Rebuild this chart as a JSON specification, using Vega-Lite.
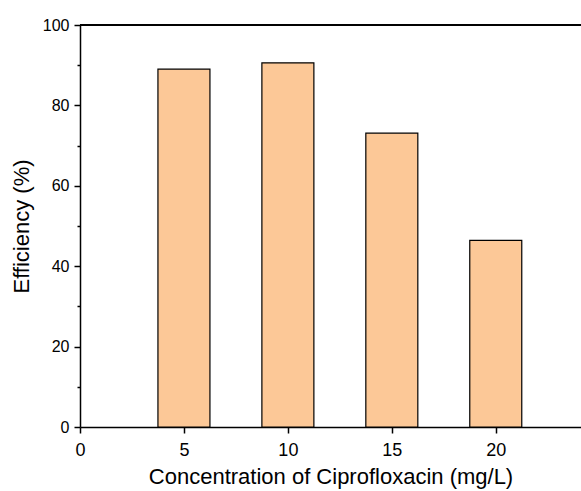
{
  "$schema": "https://vega.github.io/schema/vega-lite/v6.json",
  "width": 501,
  "height": 402,
  "autosize": "none",
  "padding": {"left": 80, "top": 25, "right": 0, "bottom": 64},
  "background": "white",
  "config": {
    "view": {"stroke": null},
    "font": "Liberation Sans",
    "axis": {
      "domainColor": "black",
      "domainWidth": 1.5,
      "tickColor": "black",
      "tickWidth": 1.5,
      "grid": false,
      "labelColor": "black",
      "titleColor": "black",
      "labelFont": "Liberation Sans",
      "titleFont": "Liberation Sans",
      "labelFontSize": 15.5,
      "titleFontSize": 22,
      "titleFontWeight": "normal"
    }
  },
  "data": {
    "values": [
      {"concentration": 5, "efficiency": 89.0},
      {"concentration": 10, "efficiency": 90.6},
      {"concentration": 15, "efficiency": 73.1},
      {"concentration": 20, "efficiency": 46.4}
    ]
  },
  "layer": [
    {
      "mark": {"type": "bar", "fill": "#FCC897", "stroke": "black", "strokeWidth": 1.2, "size": 52},
      "encoding": {
        "x": {
          "field": "concentration",
          "type": "quantitative",
          "scale": {"domain": [0, 24.1], "nice": false, "zero": true, "padding": 0},
          "axis": {
            "title": "Concentration of Ciprofloxacin (mg/L)",
            "values": [0, 5, 10, 15, 20],
            "tickSize": 6,
            "labelFlush": false,
            "labelFontSize": 18,
            "labelPadding": 8,
            "titlePadding": 7
          }
        },
        "y": {
          "field": "efficiency",
          "type": "quantitative",
          "scale": {"domain": [0, 100], "nice": false},
          "axis": {
            "title": "Efficiency (%)",
            "values": [0, 10, 20, 30, 40, 50, 60, 70, 80, 90, 100],
            "labelExpr": "datum.value % 20 == 0 ? datum.label : ''",
            "labelFlush": false,
            "labelFontSize": 16,
            "tickSize": {"condition": {"test": "datum.value % 20 != 0", "value": 3}, "value": 6},
            "labelPadding": 5,
            "titlePadding": 9
          }
        }
      }
    },
    {
      "mark": {"type": "rule", "color": "black", "strokeWidth": 1.5},
      "encoding": {"y": {"datum": 100}}
    }
  ]
}
